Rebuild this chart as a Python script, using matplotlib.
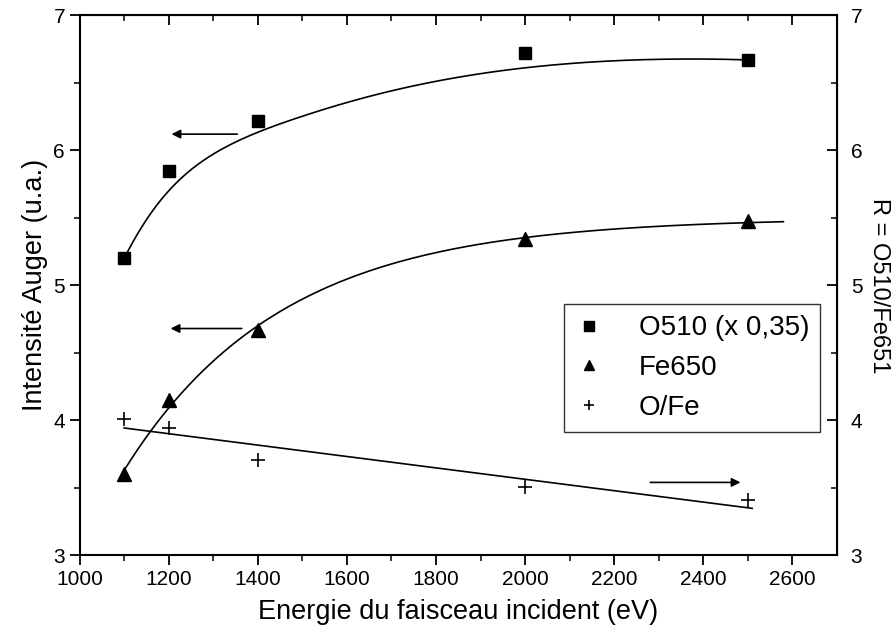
import matplotlib
matplotlib.use("Agg")
import matplotlib.pyplot as plt
import numpy as np

plt.rcParams['font.family'] = ['Liberation Sans', 'DejaVu Sans']

energy = [1100, 1200, 1400, 2000, 2500]
o510 = [5.20, 5.85, 6.22, 6.72, 6.67]
fe650 = [3.60, 4.15, 4.67, 5.34, 5.48]
ratio = [4.01, 3.945, 3.705, 3.505, 3.41]


def bspline(px, py, k=3, n=300):
    # clamped B-spline with the data points as control points
    px = np.asarray(px, float)
    py = np.asarray(py, float)
    m = len(px)
    inner = list(np.linspace(0, 1, m - k + 1)[1:-1])
    knots = np.array([0.0] * (k + 1) + inner + [1.0] * (k + 1))
    t = np.linspace(0, 1 - 1e-9, n)
    N = np.zeros((n, len(knots) - 1))
    for i in range(len(knots) - 1):
        N[:, i] = (t >= knots[i]) & (t < knots[i + 1])
    for d in range(1, k + 1):
        Nn = np.zeros((n, len(knots) - 1 - d))
        for i in range(len(knots) - 1 - d):
            a = knots[i + d] - knots[i]
            b = knots[i + d + 1] - knots[i + 1]
            left = (t - knots[i]) / a * N[:, i] if a > 0 else 0
            right = (knots[i + d + 1] - t) / b * N[:, i + 1] if b > 0 else 0
            Nn[:, i] = left + right
        N = Nn
    return N @ px, N @ py


def expfit(x, y):
    # y = A + B*exp(-x/t), best t on a grid
    x = np.asarray(x, float)
    y = np.asarray(y, float)
    best = None
    for tau in np.linspace(100, 3000, 2901):
        M = np.column_stack([np.ones_like(x), np.exp(-x / tau)])
        c, *_ = np.linalg.lstsq(M, y, rcond=None)
        err = np.sum((M @ c - y) ** 2)
        if best is None or err < best[0]:
            best = (err, tau, c)
    return best[1], best[2]


fig = plt.figure(figsize=(8.95, 6.39), dpi=100)
ax = fig.add_axes([0.089, 0.131, 0.846, 0.845])

bx, by = bspline(energy, o510)
ax.plot(bx, by, color='black', lw=1.2)

tau, (A, B) = expfit(energy, fe650)
xf = np.linspace(1100, 2580, 200)
ax.plot(xf, A + B * np.exp(-xf / tau), color='black', lw=1.2)

xr = np.linspace(1100, 2510, 50)
cr = np.polyfit(energy, ratio, 1)
ax.plot(xr, np.polyval(cr, xr), color='black', lw=1.2)

ax.plot(energy, o510, 's', color='black', ms=9, label='O510 (x 0,35)')
ax.plot(energy, fe650, '^', color='black', ms=10.5, label='Fe650')
ax.plot(energy, ratio, '+', color='black', ms=10, mew=1.2, label='O/Fe')

# arrows
arr = dict(arrowstyle='-|>', color='black', lw=1.2, mutation_scale=13)
ax.annotate('', xy=(1200, 6.12), xytext=(1360, 6.12), arrowprops=arr)
ax.annotate('', xy=(1198, 4.68), xytext=(1370, 4.68), arrowprops=arr)
ax.annotate('', xy=(2490, 3.54), xytext=(2275, 3.54), arrowprops=arr)

ax.set_xlim(1000, 2700)
ax.set_ylim(3, 7)
ax.set_xticks(range(1000, 2700, 200))
ax.set_xticks(range(1100, 2700, 200), minor=True)
ax.set_yticks([3, 4, 5, 6, 7])
ax.set_yticks([3.5, 4.5, 5.5, 6.5], minor=True)
ax.tick_params(axis='both', which='major', labelsize=15, length=7, width=1.3, direction='out')
ax.tick_params(axis='both', which='minor', length=4, width=1.1, direction='out')
for s in ax.spines.values():
    s.set_linewidth(1.5)

ax.set_xlabel('Energie du faisceau incident (eV)', fontsize=19.5, labelpad=7)
ax.set_ylabel('Intensité Auger (u.a.)', fontsize=19.5, labelpad=4)

# top and right mirrored axes with inward ticks
axt = ax.secondary_xaxis('top')
axt.set_xticks(range(1000, 2700, 200))
axt.set_xticks(range(1100, 2700, 200), minor=True)
axt.tick_params(which='major', direction='in', length=7, width=1.3, labeltop=False)
axt.tick_params(which='minor', direction='in', length=4, width=1.1)

axr = ax.secondary_yaxis('right')
axr.set_yticks([3, 4, 5, 6, 7])
axr.set_yticks([3.5, 4.5, 5.5, 6.5], minor=True)
axr.tick_params(which='major', direction='in', length=7, width=1.3, labelsize=15, pad=10)
axr.tick_params(which='minor', direction='in', length=4, width=1.1)
axr.set_ylabel('R = O510/Fe651', fontsize=17, rotation=-90, labelpad=20)

leg = ax.legend(loc='lower right', bbox_to_anchor=(0.978, 0.228), fontsize=20,
                frameon=True, fancybox=False, edgecolor='black', handlelength=1.0,
                handletextpad=1.3, borderpad=0.4, labelspacing=0.5, markerscale=0.75,
                borderaxespad=0)
leg.get_frame().set_linewidth(1.0)

fig.savefig('out.png', dpi=100)
